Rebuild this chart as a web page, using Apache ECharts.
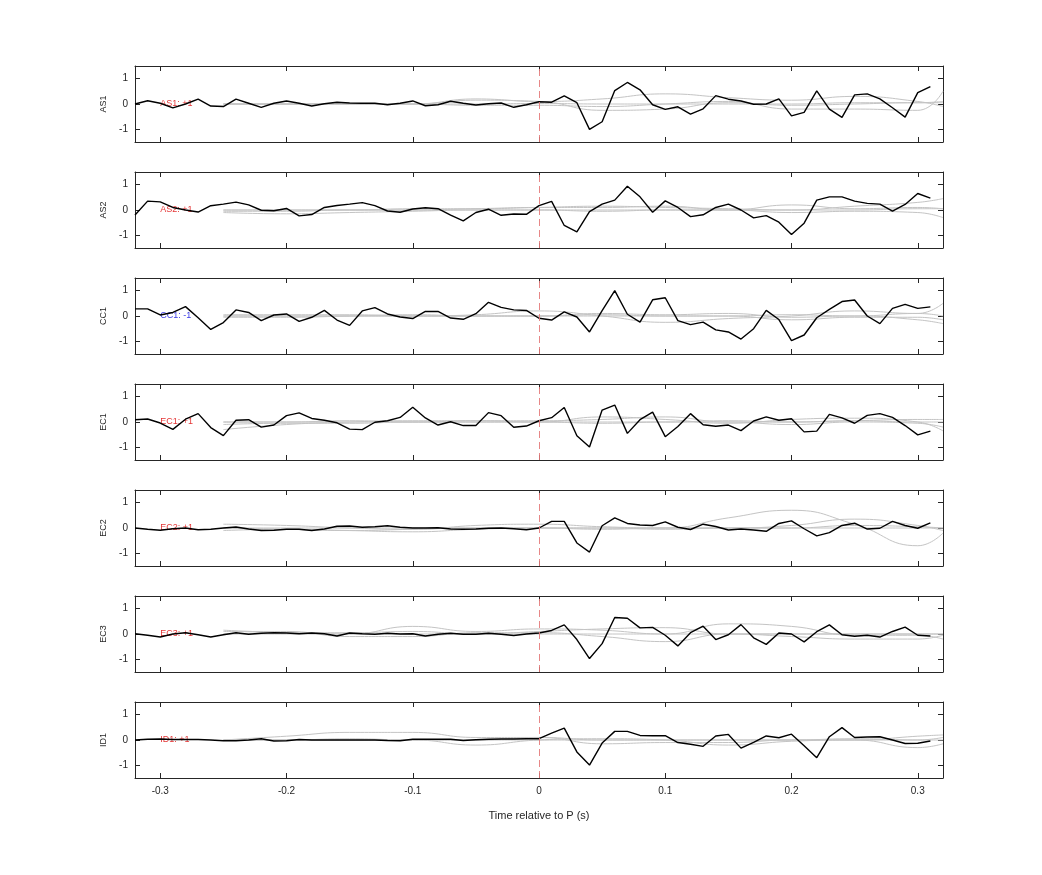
<!DOCTYPE html>
<html lang="en">
<head>
  <meta charset="UTF-8">
  <title>Time relative to P</title>
  <script src="https://cdn.jsdelivr.net/npm/echarts@6/dist/echarts.min.js"></script>
  <style>
    html, body { margin: 0; padding: 0; background: #fff; }
    #main { width: 1042px; height: 875px; }
  </style>
</head>
<body>
<div id="main"></div>
<script>
// station names and polarity labels
var stations = ['AS1', 'AS2', 'CC1', 'EC1', 'EC2', 'EC3', 'ID1'];
var polarity = ['+1', '+1', '-1', '+1', '+1', '+1', '+1'];
var xTicks = [-0.3, -0.2, -0.1, 0, 0.1, 0.2, 0.3];

// black trace: one sample every 0.01 s from -0.32 to 0.31
var as1 = [0,0.13,0.03,-0.15,0,0.19,-0.08,-0.1,0.19,0.03,-0.13,0.03,0.12,0.03,-0.08,0.01,0.07,0.04,0.03,0.03,-0.03,0.03,0.12,-0.07,-0.03,0.11,0.03,-0.04,0.01,0.04,-0.13,-0.03,
  0.09,0.07,0.32,0.05,-1.0,-0.7,0.53,0.85,0.56,-0.03,-0.21,-0.11,-0.4,-0.19,0.33,0.19,0.12,-0.01,0,0.2,-0.47,-0.33,0.52,-0.2,-0.53,0.36,0.4,0.2,-0.15,-0.52,0.45,0.69];
var as2 = [-0.2,0.35,0.32,0.1,0,-0.08,0.17,0.23,0.31,0.2,-0.01,-0.03,0.06,-0.23,-0.18,0.1,0.18,0.23,0.29,0.17,-0.04,-0.09,0.04,0.09,0.05,-0.2,-0.43,-0.1,0.03,-0.21,-0.16,-0.17,
  0.17,0.34,-0.61,-0.86,-0.06,0.23,0.39,0.94,0.52,-0.09,0.36,0.1,-0.26,-0.19,0.1,0.23,0,-0.31,-0.22,-0.48,-0.97,-0.52,0.39,0.52,0.52,0.35,0.26,0.23,-0.04,0.22,0.65,0.47];
var cc1 = [0.28,0.28,0.04,0.14,0.37,-0.07,-0.53,-0.26,0.24,0.14,-0.18,0.04,0.08,-0.21,-0.05,0.22,-0.16,-0.37,0.2,0.33,0.08,-0.04,-0.1,0.18,0.18,-0.08,-0.13,0.09,0.54,0.34,0.24,0.22,
  -0.09,-0.16,0.16,-0.04,-0.63,0.21,1.0,0.07,-0.24,0.64,0.72,-0.18,-0.34,-0.24,-0.55,-0.63,-0.91,-0.5,0.22,-0.14,-0.97,-0.75,-0.07,0.26,0.57,0.63,0,-0.3,0.3,0.46,0.3,0.36];
var ec1 = [0.09,0.12,-0.04,-0.29,0.11,0.33,-0.22,-0.54,0.07,0.09,-0.2,-0.12,0.25,0.36,0.14,0.07,-0.03,-0.28,-0.3,-0.01,0.05,0.18,0.58,0.16,-0.12,0.01,-0.14,-0.14,0.37,0.25,-0.21,-0.16,
  0.05,0.17,0.57,-0.54,-0.99,0.47,0.67,-0.45,0.09,0.39,-0.58,-0.18,0.33,-0.11,-0.17,-0.12,-0.34,0.04,0.2,0.07,0.13,-0.39,-0.36,0.3,0.16,-0.05,0.26,0.33,0.18,-0.14,-0.51,-0.36];
var ec2 = [0,-0.05,-0.09,-0.03,0,-0.07,-0.05,0,0.04,-0.04,-0.1,-0.09,-0.05,-0.05,-0.1,-0.04,0.07,0.08,0.03,0.05,0.09,0.03,0,0,0.01,-0.04,-0.05,-0.04,-0.01,0,-0.03,-0.07,
  0,0.26,0.26,-0.59,-0.95,0.09,0.4,0.18,0.12,0.1,0.24,0.03,-0.06,0.15,0.06,-0.08,-0.04,-0.08,-0.13,0.18,0.28,-0.03,-0.31,-0.18,0.1,0.19,-0.04,-0.01,0.26,0.1,-0.01,0.2];
var ec3 = [0.01,-0.05,-0.12,0,0.05,-0.03,-0.12,-0.03,0.05,-0.01,0.03,0.05,0.04,0.01,0.04,0.01,-0.08,0.04,0.01,-0.01,0.03,0,0.01,-0.08,-0.01,0.03,-0.01,-0.01,0.03,-0.01,-0.06,0,
  0.04,0.14,0.36,-0.22,-0.97,-0.38,0.65,0.62,0.24,0.26,-0.05,-0.47,0.05,0.31,-0.22,-0.03,0.37,-0.15,-0.41,0.04,0,-0.31,0.09,0.36,-0.03,-0.09,-0.05,-0.12,0.1,0.27,-0.05,-0.08];
var id1 = [0,0.03,0.04,0.02,0.02,0.02,0,-0.03,-0.03,0,0.05,-0.04,-0.03,0.02,0,0,0,0,0,0,-0.02,-0.03,0.03,0.03,0.03,0.03,-0.02,0.01,0.03,0.04,0.04,0.05,
  0.05,0.27,0.47,-0.47,-0.99,-0.12,0.34,0.34,0.18,0.17,0.17,-0.1,-0.17,-0.25,0.16,0.22,-0.32,-0.09,0.16,0.09,0.23,-0.23,-0.7,0.13,0.49,0.1,0.12,0.13,0,-0.14,-0.13,-0.04];
var traces = [as1, as2, cc1, ec1, ec2, ec3, id1];

// grey traces sampled every 0.05 s from -0.25, last one at the right edge
var greyT = [-0.25,-0.2,-0.15,-0.1,-0.05,0,0.05,0.1,0.15,0.2,0.25,0.3,0.32];
var greyAS1 = [
  [0,0,0,0,0.15,0.1,-0.25,-0.2,0.05,-0.05,0,0.05,0.05],
  [0,0,0.02,0,0.2,0.1,0.2,0.4,0.25,0.15,0.3,0.1,-0.1],
  [0,0,0,0,-0.05,-0.05,-0.1,0,0.1,-0.2,-0.2,-0.25,0.5],
  [0,0,0,0,0,0.02,0,0,0,0,0.05,0.05,0.1]
];
var greyAS2 = [
  [0,0,0,0.05,0.05,0.1,0.15,0.1,0.05,0,0.15,0.3,0.45],
  [-0.1,-0.15,-0.1,-0.05,0,0,-0.05,0,0,-0.1,-0.05,-0.1,-0.3],
  [-0.05,-0.05,0,0,0.05,0.1,0.1,0.15,0,0.2,0.05,0.1,0.05],
  [0,0,0,0,0,0,0,0,0,0,0,0.05,0.05]
];
var greyCC1 = [
  [0,0,0,0,0.05,0.2,0,-0.25,-0.1,0,0.2,0.1,0.5],
  [0,0,0,0,0,0,0.1,0.05,0.1,-0.05,0,-0.15,-0.3],
  [0.05,0.05,0.05,0,0,0,0.05,0,0,0.05,0,0.1,0],
  [-0.05,-0.05,0,0.05,0,0,0,0,0,-0.15,-0.05,-0.05,-0.15]
];
var greyEC1 = [
  [-0.3,-0.1,0,0.05,0.05,0,0.2,0.1,-0.05,0.1,0.15,0,-0.35],
  [0,0,0.05,0,0.05,0.05,0.1,0.2,0,0,0.05,0.1,0.1],
  [0,0,0,0,0,0,-0.05,0,0,-0.1,0,-0.05,-0.2],
  [-0.1,-0.05,-0.05,0,0,0,0,0,0.05,0,0.05,0,0]
];
var greyEC2 = [
  [0.15,0.1,0,-0.05,0.1,0.15,0.05,0,0.4,0.7,0.15,-0.7,-0.2],
  [-0.1,-0.05,-0.1,-0.15,-0.05,0,-0.05,0,0,0.1,0.35,0.1,-0.1],
  [0,-0.05,-0.1,-0.05,0,0,0,-0.05,0,0,0.1,0.05,0],
  [0,0,0,0,0,0,0,0,0,0,0,0,0]
];
var greyEC3 = [
  [0.15,0.05,0,0.3,0.1,0.2,0.15,0,0.4,0.3,-0.05,-0.05,-0.2],
  [0.1,0.1,-0.1,-0.1,0.05,0.05,-0.1,-0.3,0,-0.1,-0.2,-0.2,-0.05],
  [0,0.05,0.05,0.1,0,0.1,0.2,0.25,0,0,0,0,0],
  [0,0,0,0,0,0,0,0,0,0,0,0,0]
];
var greyID1 = [
  [0,0.15,0.3,0.3,0.1,0.1,-0.15,-0.1,-0.1,0,0,0.15,0.2],
  [0,0,0,0,-0.2,0,0.05,0,-0.2,-0.05,0,-0.3,-0.15],
  [0,0,0.05,0,0,0.1,0,0,0,0,0.05,0,0.1],
  [0,0,0,0,0,0,0,0,0,0,0,0,0]
];
var greys = [greyAS1, greyAS2, greyCC1, greyEC1, greyEC2, greyEC3, greyID1];

var myChart = echarts.init(document.getElementById('main'));
var font = 'Liberation Sans, Arial, sans-serif';
var grids = [], xAxes = [], yAxes = [], series = [];

for (var i = 0; i < stations.length; i++) {
  var last = i === stations.length - 1;
  grids.push({ left: 135, right: 99, top: 66 + i * 106, height: 76 });
  var xb = {
    type: 'value', gridIndex: i, min: -0.32, max: 0.32, position: 'bottom',
    axisLine: { onZero: false, lineStyle: { color: '#262626', width: 1 } },
    axisTick: { inside: true, length: 5, customValues: xTicks, lineStyle: { color: '#262626' } },
    axisLabel: { show: last, customValues: xTicks, color: '#262626', fontSize: 10, fontFamily: font, margin: 8 },
    splitLine: { show: false }
  };
  if (last) {
    xb.name = 'Time relative to P (s)';
    xb.nameLocation = 'middle';
    xb.nameGap = 32;
    xb.nameTextStyle = { color: '#262626', fontSize: 11, fontFamily: font };
  }
  xAxes.push(xb);
  xAxes.push({
    type: 'value', gridIndex: i, min: -0.32, max: 0.32, position: 'top',
    axisLine: { onZero: false, lineStyle: { color: '#262626', width: 1 } },
    axisTick: { inside: true, length: 5, customValues: xTicks, lineStyle: { color: '#262626' } },
    axisLabel: { show: false }, splitLine: { show: false }
  });
  yAxes.push({
    type: 'value', gridIndex: i, min: -1.5, max: 1.5, position: 'left',
    name: stations[i], nameLocation: 'middle', nameGap: 24, nameRotate: 90,
    nameTextStyle: { color: '#262626', fontSize: 9, fontFamily: font },
    axisLine: { onZero: false, lineStyle: { color: '#262626', width: 1 } },
    axisTick: { inside: true, length: 5, customValues: [-1, 0, 1], lineStyle: { color: '#262626' } },
    axisLabel: { customValues: [-1, 0, 1], color: '#262626', fontSize: 10, fontFamily: font, margin: 7 },
    splitLine: { show: false }
  });
  yAxes.push({
    type: 'value', gridIndex: i, min: -1.5, max: 1.5, position: 'right',
    axisLine: { onZero: false, lineStyle: { color: '#262626', width: 1 } },
    axisTick: { inside: true, length: 5, customValues: [-1, 0, 1], lineStyle: { color: '#262626' } },
    axisLabel: { show: false }, splitLine: { show: false }
  });

  // grey traces
  greys[i].forEach(function (g) {
    series.push({
      type: 'line', xAxisIndex: 2 * i, yAxisIndex: 2 * i, smooth: 0.5, symbol: 'none', silent: true,
      lineStyle: { color: '#c4c4c4', width: 1 },
      data: g.map(function (v, k) { return [greyT[k], v]; })
    });
  });

  // black trace + P marker
  var d = traces[i].map(function (v, k) { return [Math.round((-0.32 + k * 0.01) * 100) / 100, v]; });
  series.push({
    type: 'line', xAxisIndex: 2 * i, yAxisIndex: 2 * i, symbol: 'none', silent: true,
    lineStyle: { color: '#000', width: 1.4 },
    data: d,
    markLine: {
      silent: true, symbol: 'none', label: { show: false },
      lineStyle: { color: '#e47a7a', type: [7, 4], width: 1, opacity: 0.9 },
      data: [{ xAxis: 0 }]
    }
  });

  // polarity label
  series.push({
    type: 'scatter', xAxisIndex: 2 * i, yAxisIndex: 2 * i, symbolSize: 0, silent: true,
    data: [[-0.3, 0]],
    label: {
      show: true, position: 'right', distance: 0,
      formatter: stations[i] + ': ' + polarity[i],
      color: polarity[i] === '-1' ? '#0000dd' : '#dd0000', fontSize: 9, fontFamily: font
    }
  });
}

myChart.setOption({
  animation: false,
  backgroundColor: '#fff',
  grid: grids,
  xAxis: xAxes,
  yAxis: yAxes,
  series: series
});
</script>
</body>
</html>
